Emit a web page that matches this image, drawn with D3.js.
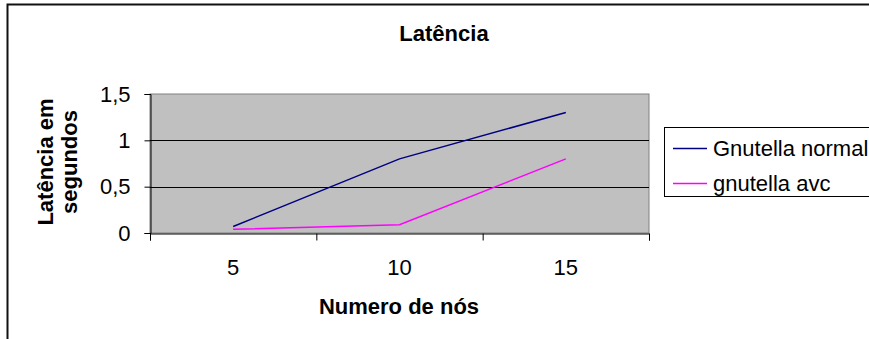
<!DOCTYPE html>
<html>
<head>
<meta charset="utf-8">
<script src="https://cdn.jsdelivr.net/npm/d3@7"></script>
<style>
    body { margin: 0; background: #fff; }
    svg { display: block; font-family: "Liberation Sans", Arial, sans-serif; }
</style>
</head>
<body>
<div id="chart"></div>
<script>
// Chart data
const categories = ["5", "10", "15"];
const gnutellaNormal = [0.07, 0.8, 1.3];
const gnutellaAvc = [0.04, 0.09, 0.8];
const yTicks = [0, 0.5, 1, 1.5];

const series = [
    {name: "Gnutella normal", values: gnutellaNormal, color: "#000080"},
    {name: "gnutella avc", values: gnutellaAvc, color: "#ff00ff"}
];

const width = 869;
const height = 339;
const plot = {left: 150, right: 649, top: 94, bottom: 233};

const svg = d3.select("#chart")
    .append("svg")
    .attr("width", width)
    .attr("height", height);

// Outer chart border (only top and left visible in the crop)
svg.append("path")
    .attr("d", `M7.5,${height} V4.5 H${width}`)
    .attr("fill", "none")
    .attr("stroke", "#111")
    .attr("stroke-width", 2);

// Scales
const x = d3.scaleBand()
    .domain(categories)
    .range([plot.left, plot.right])
    .padding(0);

const xEdge = d3.scaleLinear()
    .domain([0, categories.length])
    .range([plot.left, plot.right]);

const y = d3.scaleLinear()
    .domain([0, 1.5])
    .range([plot.bottom, plot.top]);

// Plot area background
svg.append("rect")
    .attr("x", plot.left)
    .attr("y", plot.top)
    .attr("width", plot.right - plot.left)
    .attr("height", plot.bottom - plot.top)
    .attr("fill", "#c0c0c0")
    .attr("stroke", "#808080")
    .attr("stroke-width", 1);

// Gridlines
svg.append("g")
    .selectAll("line")
    .data(yTicks.filter(d => d > 0 && d < 1.5))
    .enter()
    .append("line")
    .attr("x1", plot.left)
    .attr("x2", plot.right)
    .attr("y1", d => Math.round(y(d)) + 0.5)
    .attr("y2", d => Math.round(y(d)) + 0.5)
    .attr("stroke", "#000")
    .attr("stroke-width", 1);

// Y axis
const yAxis = svg.append("g")
    .attr("transform", `translate(${plot.left + 0.5},0)`)
    .call(d3.axisLeft(y)
        .tickValues(yTicks)
        .tickSize(6)
        .tickPadding(14)
        .tickFormat(d => String(d).replace(".", ",")));

// X axis: boundary ticks
const xAxis = svg.append("g")
    .attr("transform", `translate(0,${plot.bottom + 0.5})`)
    .call(d3.axisBottom(xEdge)
        .tickValues(d3.range(categories.length + 1))
        .tickSize(7)
        .tickFormat(""));

// X axis: category labels
const xLabels = svg.append("g")
    .attr("transform", `translate(0,${plot.bottom})`)
    .call(d3.axisBottom(x)
        .tickSize(0)
        .tickPadding(26));
xLabels.select(".domain").remove();

[yAxis, xAxis, xLabels].forEach(g => {
    g.attr("font-family", null).attr("font-size", null);
    g.selectAll("text")
        .style("font-size", "22px")
        .attr("fill", "#000");
    g.selectAll("line, path").attr("stroke", "#000");
});

// Lines
const line = d3.line()
    .x((d, i) => x(categories[i]) + x.bandwidth() / 2)
    .y(d => y(d));

svg.append("g")
    .selectAll("path")
    .data(series)
    .enter()
    .append("path")
    .attr("d", d => line(d.values))
    .attr("fill", "none")
    .attr("stroke", d => d.color)
    .attr("stroke-width", 1.5);

// Title
svg.append("text")
    .attr("x", 444)
    .attr("y", 41)
    .attr("text-anchor", "middle")
    .style("font-size", "22px")
    .style("font-weight", "bold")
    .text("Latência");

// X axis title
svg.append("text")
    .attr("x", 399)
    .attr("y", 314)
    .attr("text-anchor", "middle")
    .style("font-size", "22px")
    .style("font-weight", "bold")
    .text("Numero de nós");

// Y axis title (two lines)
const yTitle = svg.append("text")
    .attr("transform", "translate(0,162) rotate(-90)")
    .attr("text-anchor", "middle")
    .style("font-size", "22px")
    .style("font-weight", "bold");
yTitle.append("tspan").attr("x", 0).attr("y", 53).text("Latência em");
yTitle.append("tspan").attr("x", 0).attr("y", 77).text("segundos");

// Legend
const legend = svg.append("g");
legend.append("rect")
    .attr("x", 664.5)
    .attr("y", 127.5)
    .attr("width", 220)
    .attr("height", 69)
    .attr("fill", "#fff")
    .attr("stroke", "#000")
    .attr("stroke-width", 1);

series.forEach((s, i) => {
    const ly = 148 + i * 35;
    legend.append("line")
        .attr("x1", 673)
        .attr("x2", 707)
        .attr("y1", ly + 0.5)
        .attr("y2", ly + 0.5)
        .attr("stroke", s.color)
        .attr("stroke-width", 1.5);
    legend.append("text")
        .attr("x", 713)
        .attr("y", ly + 8)
        .style("font-size", "22px")
        .text(s.name);
});
</script>
</body>
</html>
